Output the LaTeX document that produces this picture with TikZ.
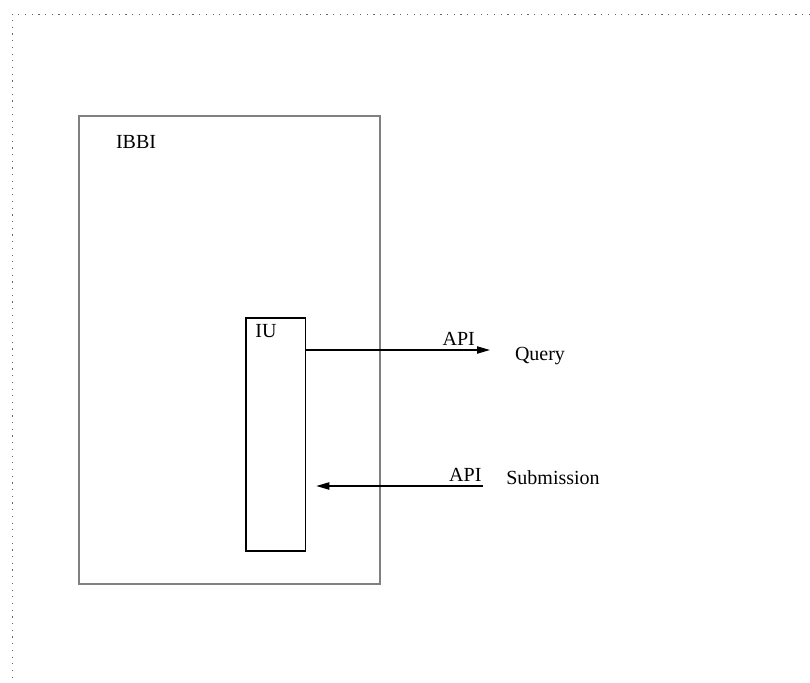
\documentclass[tikz,border=0pt]{standalone}
\usepackage{fontspec}
\setmainfont{Liberation Serif}
\usetikzlibrary{arrows.meta}

\begin{document}
\begin{tikzpicture}[x=0.5pt, y=-0.5pt,
    box/.style={draw, rectangle, inner sep=0pt},
    flow/.style={line width=0.75pt, -{Triangle[length=6.5pt, width=3.6pt]}},
    lbl/.style={font=\fontsize{10}{12}\selectfont, inner sep=1pt}]
    \useasboundingbox (0, 0) rectangle (810, 682);

    % Dotted page frame (top and left edges only)
    \draw[black!60, line width=0.5pt, dash pattern=on 0.6pt off 2.75pt]
        (810, 14) -- (12, 14) -- (12, 682);

    % IBBI (outer box)
    \node[box, draw=black!50, line width=0.9pt, minimum width=150.5pt, minimum height=234pt]
        (ibbi) at (229.5, 350) {};
    \node[lbl] (ibbiname) at (136, 142) {IBBI};

    % IU (inner box)
    \node[box, line width=0.75pt, minimum width=29.75pt, minimum height=116.5pt]
        (iu) at (275.75, 434.5) {};
    \node[lbl] (iuname) at (266, 331) {IU};

    % Query side
    \coordinate (qend) at (490, 350);
    \node[lbl] (query) at (540, 356) {Query};
    \draw[flow] (iu.east |- qend) -- (qend)
        node[lbl, pos=0.83, above=1pt] (api1) {API};

    % Submission side
    \coordinate (sstart) at (483, 486);
    \node[lbl] (subm) at (553, 478) {Submission};
    \draw[flow, shorten >=5pt] (sstart) -- (iu.east |- sstart)
        node[lbl, pos=0.1, above=1pt] (api2) {API};

\end{tikzpicture}
\end{document}
